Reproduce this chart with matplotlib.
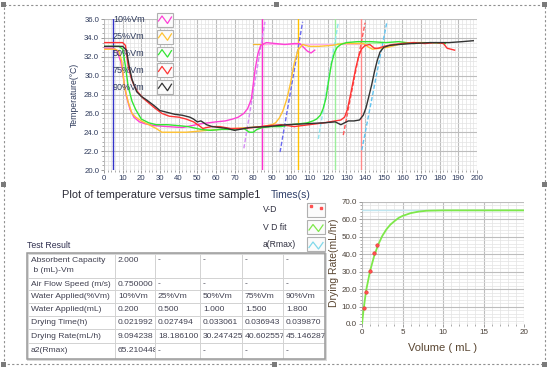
import matplotlib
matplotlib.use('Agg')
import matplotlib.pyplot as plt
from matplotlib.patches import Rectangle
from matplotlib.ticker import MultipleLocator, FormatStrFormatter

plt.rcParams['font.family'] = ['Liberation Sans', 'DejaVu Sans']

# ---- temperature vs time ----
t10 = [0, 5, 7, 9, 12, 14, 16, 19, 22, 27, 34, 42, 47, 52, 60, 65, 69, 72, 75, 77, 79, 81, 82.5, 84, 87, 92, 97, 102, 105, 107, 109, 111, 113]
T10 = [32.9, 32.9, 32.6, 31.5, 27.8, 26.4, 25.6, 25.1, 24.9, 24.7, 24.6, 24.5, 24.7, 24.9, 25.1, 25.2, 25.4, 25.6, 26.0, 26.5, 27.5, 30.6, 32.3, 33.2, 33.5, 33.4, 33.3, 33.4, 33.4, 33.0, 32.6, 32.4, 32.7]

t25 = [0, 6, 8, 9.5, 11, 13, 15, 17, 20, 24, 28, 31, 36, 44, 50, 55, 62, 70, 78, 85, 90, 92, 94, 96, 98, 100, 102, 104, 106.5, 110, 115, 122, 128, 134, 139, 142, 144, 148, 152, 158, 165, 172]
T25 = [32.8, 32.8, 32.6, 31.5, 28.8, 27.2, 26.0, 25.6, 25.2, 24.8, 24.4, 24.0, 24.0, 24.0, 24.1, 24.2, 24.3, 24.4, 24.5, 24.6, 24.8, 25.0, 25.5, 26.3, 27.5, 29.2, 31.3, 32.7, 33.3, 33.1, 33.1, 33.2, 33.4, 33.4, 33.4, 33.0, 32.8, 32.9, 33.0, 33.3, 33.5, 33.5]

t50 = [0, 8, 10, 11.5, 13, 15, 17, 20, 24, 28, 34, 40, 45, 52, 57, 63, 70, 75, 78, 80, 82, 85, 90, 95, 100, 105, 109, 112, 114, 116, 117.5, 119, 120.5, 122, 123.5, 125, 127, 130, 136, 143, 151, 158, 166, 175, 183]
T50 = [33.1, 33.1, 32.8, 31.0, 28.8, 27.3, 26.4, 25.4, 25.0, 24.8, 24.8, 24.7, 24.6, 24.3, 24.2, 24.3, 24.3, 24.4, 24.0, 24.0, 24.3, 24.5, 24.6, 24.6, 24.8, 24.9, 25.0, 25.2, 25.4, 25.8, 26.5, 27.6, 29.5, 31.3, 32.4, 33.0, 33.3, 33.5, 33.6, 33.6, 33.5, 33.6, 33.4, 33.5, 33.4]

t75 = [0, 10, 11.5, 13, 14.5, 16, 18, 21, 24, 27, 31, 35, 40, 44, 48, 51, 53, 55, 58, 62, 68, 75, 80, 88, 95, 102, 110, 118, 124, 127, 129, 130.5, 132, 133.5, 135, 136.5, 138, 140, 142.5, 145, 147, 150, 155, 160, 166, 172, 178, 182, 184, 186, 188]
T75 = [33.5, 33.5, 33.2, 31.0, 29.8, 29.0, 28.3, 27.6, 27.1, 26.6, 26.0, 25.7, 25.6, 25.4, 25.1, 24.7, 24.4, 24.5, 24.6, 24.6, 24.4, 24.4, 24.5, 24.7, 24.8, 24.6, 24.8, 25.0, 25.2, 25.3, 25.6, 26.4, 27.8, 29.3, 30.8, 32.0, 32.8, 33.2, 33.3, 32.9, 32.9, 33.1, 33.3, 33.4, 33.5, 33.4, 33.5, 33.4, 32.9, 32.8, 32.7]

t90 = [0, 10, 12, 13.5, 15, 17.5, 20, 23, 27, 30, 34, 38, 42, 46, 48, 50, 52, 55, 58, 62, 66, 70, 78, 88, 98, 108, 118, 124, 127, 129, 131, 134, 137, 139, 140.5, 142, 143.5, 145, 146.5, 148, 150, 153, 158, 165, 175, 185, 192, 198]
T90 = [33.1, 33.1, 32.7, 31.0, 29.6, 28.3, 27.8, 27.4, 26.8, 26.3, 26.1, 25.9, 25.8, 25.6, 25.4, 25.1, 25.2, 24.8, 24.6, 24.5, 24.4, 24.2, 24.5, 24.6, 24.8, 24.9, 25.0, 25.1, 24.8, 25.0, 25.2, 25.2, 25.3, 25.8, 26.6, 27.8, 29.0, 30.4, 31.6, 32.5, 33.0, 33.2, 33.3, 33.4, 33.5, 33.5, 33.6, 33.7]

series_names = ['10%Vm', '25%Vm', '50%Vm', '75%Vm', '90%Vm']
series_colors = ['#ff3fd6', '#ffc233', '#33e633', '#ff3333', '#333333']

# tangent lines at the steepest rise (start and end points)
tan_x = [(75, 86.3), (94.4, 106.5), (114.9, 125.6), (128.3, 140), (138.2, 151.6)]
tan_y = [(22.3, 35.7), (21.9, 35.7), (23.3, 35.6), (23.7, 35.6), (22.1, 35.6)]
tan_colors = ['#d58ef5', '#6a6af0', '#8fe6f0', '#ff5a5a', '#62c4f0']

# cursors
cursor_x = [5, 84.5, 104, 124, 138]
cursor_colors = ['#3333c8', '#ff2fd0', '#ffc000', '#9cee9c', '#ff8a8a']

# plateau reference segments
plat_x = [(80, 87), (86, 140), (125, 149)]
plat_y = [33.4, 33.4, 33.45]
plat_colors = ['#f5b830', '#ffb0ee', '#aef0a0']

# ---- drying rate vs volume ----
vol = [0.2, 0.5, 1.0, 1.5, 1.8]
rate = [9.094238, 18.1861, 30.247425, 40.602557, 45.146287]
fit_v = [0, 0.2, 0.5, 1, 1.5, 2, 2.5, 3, 3.5, 4, 4.5, 5, 5.5, 6, 7, 8, 10, 20]
fit_r = [0, 8.5, 19, 30.5, 39, 45.5, 50.5, 54.2, 57, 59, 60.8, 62, 62.8, 63.6, 64.5, 65.0, 65.2, 65.2]
rmax = 65.210448

# ---- table ----
row_labels = ['Absorbent Capacity\n b (mL)-Vm', 'Air Flow Speed (m/s)', 'Water Applied(%Vm)',
              'Water Applied(mL)', 'Drying Time(h)', 'Drying Rate(mL/h)', 'a2(Rmax)']
cells = [
    ['2.000', '-', '-', '-', '-'],
    ['0.750000', '-', '-', '-', '-'],
    ['10%Vm', '25%Vm', '50%Vm', '75%Vm', '90%Vm'],
    ['0.200', '0.500', '1.000', '1.500', '1.800'],
    ['0.021992', '0.027494', '0.033061', '0.036943', '0.039870'],
    ['9.094238', '18.186100', '30.247425', '40.602557', '45.146287'],
    ['65.210448', '-', '-', '-', '-'],
]

W, H = 552, 373
fig = plt.figure(figsize=(W / 100, H / 100), dpi=100)
fig.patch.set_facecolor('white')


def box(l, t, r, b):
    return [l / W, 1 - b / H, (r - l) / W, (b - t) / H]


# ---------------- top chart ----------------
ax = fig.add_axes(box(104, 19, 477, 170))
ax.set_xlim(0, 200)
ax.set_ylim(20, 36)
ax.xaxis.set_major_locator(MultipleLocator(10))
ax.xaxis.set_minor_locator(MultipleLocator(2))
ax.yaxis.set_major_locator(MultipleLocator(2))
ax.yaxis.set_minor_locator(MultipleLocator(0.5))
ax.yaxis.set_major_formatter(FormatStrFormatter('%.1f'))
ax.grid(which='major', color='#bdbdbd', lw=0.8)
ax.grid(which='minor', color='#e3e3e3', lw=0.5)
ax.set_axisbelow(True)
for s in ax.spines.values():
    s.set_visible(False)
ax.tick_params(which='both', labelsize=5.6, labelcolor='#2e3a5c', color='#888888', pad=1)
ax.tick_params(which='major', length=2.5, width=0.6)
ax.tick_params(which='minor', length=1.2, width=0.5)
ax.set_ylabel('Temperature(°C)', fontsize=6.2, color='#2e3a5c', labelpad=4)

for xs, ys, c in zip(plat_x, plat_y, plat_colors):
    ax.plot(xs, [ys, ys], color=c, lw=0.9, zorder=2)
for x, c in zip(cursor_x, cursor_colors):
    ax.axvline(x, color=c, lw=1.0, zorder=2)
for xs, ys, c in zip(tan_x, tan_y, tan_colors):
    ax.plot(xs, ys, color=c, lw=1.0, ls=(0, (3, 1.5)), zorder=3)

for t, T, c in zip([t10, t25, t50, t75, t90], [T10, T25, T50, T75, T90], series_colors):
    ax.plot(t, T, color=c, lw=1.0, zorder=4)

# ---------------- bottom-right chart ----------------
ax2 = fig.add_axes(box(362, 202, 524, 324))
ax2.set_xlim(0, 20)
ax2.set_ylim(0, 70)
ax2.xaxis.set_major_locator(MultipleLocator(5))
ax2.xaxis.set_minor_locator(MultipleLocator(1))
ax2.yaxis.set_major_locator(MultipleLocator(10))
ax2.yaxis.set_minor_locator(MultipleLocator(2))
ax2.yaxis.set_major_formatter(FormatStrFormatter('%.1f'))
ax2.grid(which='major', color='#bdbdbd', lw=0.8)
ax2.grid(which='minor', color='#e3e3e3', lw=0.5)
ax2.set_axisbelow(True)
for s in ax2.spines.values():
    s.set_visible(False)
ax2.tick_params(which='both', labelsize=5.8, labelcolor='#4a4038', color='#888888', pad=1)
ax2.tick_params(which='major', length=2.5, width=0.6)
ax2.tick_params(which='minor', length=1.2, width=0.5)
ax2.set_xlabel('Volume ( mL )', fontsize=8, color='#5a4632', labelpad=5)
ax2.set_ylabel('Drying Rate(mL/hr)', fontsize=7.5, color='#5a4632', labelpad=2)
ax2.axhline(rmax, color='#bfe6f0', lw=1.0, zorder=2)
ax2.plot(fit_v, fit_r, color='#7ee84a', lw=1.3, zorder=3)
ax2.plot(vol, rate, ls='none', marker='o', ms=2.5, mfc='#ff5050', mec='#e83030', mew=0.4, zorder=4)

# ---------------- overlay: labels, legends, table, frame ----------------
bg = fig.add_axes([0, 0, 1, 1], zorder=5)
bg.set_xlim(0, W)
bg.set_ylim(H, 0)
bg.axis('off')
bg.patch.set_alpha(0)


def icon(x0, y0, color):
    bg.add_patch(Rectangle((x0, y0), 16, 14, fc='#fbfbfb', ec='#b0b0b0', lw=0.8))
    bg.plot([x0 + 1.5, x0 + 5, x0 + 10.5, x0 + 14.5], [y0 + 8, y0 + 3, y0 + 10.5, y0 + 4],
            color=color, lw=0.9)


# top legend
for i, (name, c) in enumerate(zip(series_names, series_colors)):
    y = 20 + 16.8 * i
    bg.text(113, y, name, fontsize=6.5, color='#2e3a5c', va='center', ha='left')
    icon(157, y - 7, c)

# titles
bg.text(62, 195, 'Plot of temperature versus time sample1', fontsize=7.9, color='#2c2c38', va='center')
bg.text(271, 195, 'Times(s)', fontsize=7.4, color='#30406a', va='center')

# bottom-right legend
leg_names = ['V-D', 'V D fit', 'a(Rmax)']
for i, name in enumerate(leg_names):
    y = 210 + 17.2 * i
    bg.text(263, y, name, fontsize=6.2, color='#303040', va='center')
    bg.add_patch(Rectangle((307, y - 7), 18, 14, fc='#fbfbfb', ec='#b0b0b0', lw=0.8))
bg.plot([310.5, 320.5], [206, 208], ls='none', marker='s', ms=1.5, color='#ff5050')
bg.plot([309, 313, 318.5, 323], [230, 224.5, 231.5, 225], color='#7ee84a', lw=0.9)
bg.plot([309, 313, 318.5, 323], [247.5, 242, 249, 242.5], color='#7fd8ea', lw=0.9)

# table: each cell gets a white backing drawn over the cell to its left,
# so text that runs past a column edge is cut off like in the original
bg.text(27, 245, 'Test Result', fontsize=6.3, color='#303050', va='center')
col_x = [27, 115, 155, 200, 242, 283, 325]
row_y = [252.7, 278.3, 290, 303.3, 316, 329.3, 342.7, 359]
for r in range(len(row_labels)):
    yc = (row_y[r] + row_y[r + 1]) / 2
    bg.text(col_x[0] + 4, yc, row_labels[r], fontsize=6.1, color='#404050', va='center',
            linespacing=1.4, zorder=10)
    for c in range(5):
        z = 10 + 2 * (c + 1)
        bg.add_patch(Rectangle((col_x[c + 1], row_y[r]), col_x[c + 2] - col_x[c + 1],
                               row_y[r + 1] - row_y[r], fc='white', ec='none', zorder=z))
        y = 260 if r == 0 else yc
        bg.text(col_x[c + 1] + 3, y, cells[r][c], fontsize=6.1, color='#404050', va='center',
                zorder=z + 1)
for y in row_y[1:-1]:
    bg.plot([col_x[0], col_x[-1]], [y, y], color='#d2d2d2', lw=0.7, zorder=40)
for x in col_x[1:-1]:
    bg.plot([x, x], [row_y[0], row_y[-1]], color='#d2d2d2', lw=0.7, zorder=40)
bg.add_patch(Rectangle((col_x[0] + 1, row_y[0] + 1), col_x[-1] - col_x[0], row_y[-1] - row_y[0],
                       fc='none', ec='#d8d8d8', lw=1.4, zorder=41))
bg.add_patch(Rectangle((col_x[0], row_y[0]), col_x[-1] - col_x[0], row_y[-1] - row_y[0],
                       fc='none', ec='#9a9a9a', lw=1.1, zorder=42))

# selection frame
bg.add_patch(Rectangle((3.5, 4.5), 541, 359.5, fc='none', ec='#909090', lw=0.8, ls=(0, (2, 2)),
                       zorder=50))
for hx, hy in [(3.5, 4.5), (276, 4.5), (544.5, 4.5), (3.5, 184), (544.5, 184),
               (3.5, 364), (274, 364), (544.5, 364)]:
    bg.add_patch(Rectangle((hx - 2.5, hy - 2.5), 5, 5, fc='#7a7a7a', ec='none', zorder=51))

fig.savefig('out.png', dpi=100)
